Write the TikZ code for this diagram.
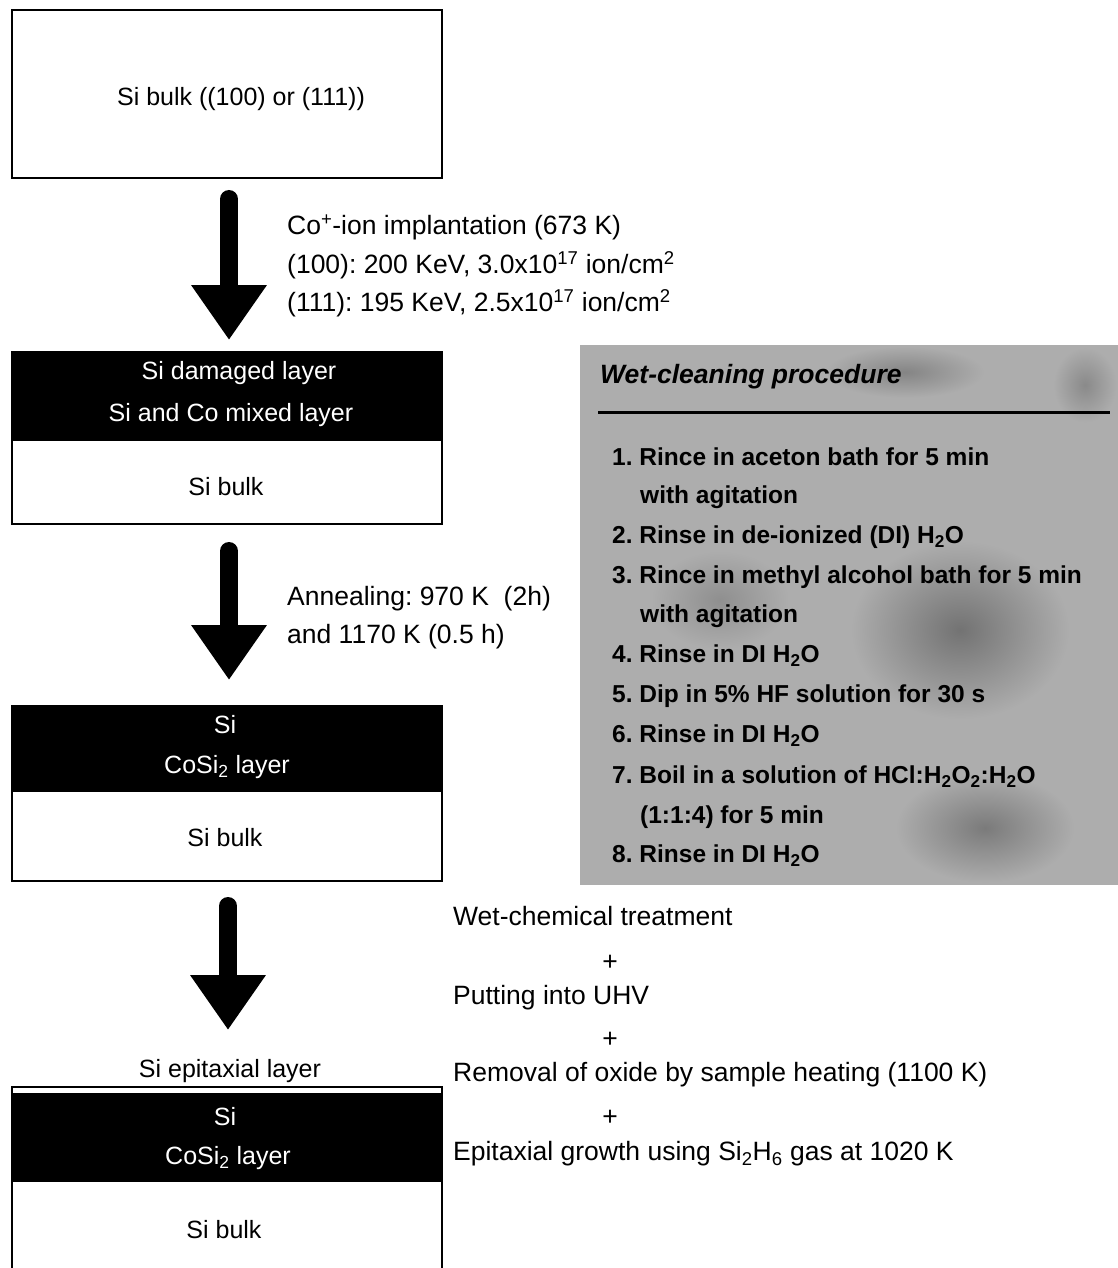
\documentclass[tikz,border=0pt]{standalone}
\usepackage{fontspec}
\setmainfont{Liberation Sans}
\usetikzlibrary{arrows.meta}
\frenchspacing
\begin{document}
\begin{tikzpicture}[x=1pt,y=-1pt,
  txt/.style={font=\fontsize{25}{30}\selectfont, inner sep=0pt, yshift=-2.5pt},
  wtxt/.style={txt, text=white},
  otxt/.style={font=\fontsize{26.5}{30}\selectfont, inner sep=0pt, yshift=-3pt},
  ltxt/.style={otxt, anchor=mid west},
  gtxt/.style={font=\fontsize{24.5}{28}\bfseries\selectfont, anchor=mid west, inner sep=0pt, yshift=-3pt},
  frame/.style={draw=black, line width=2pt},
  bigarrow/.style={line width=18pt, line cap=round, -{Triangle[width=72pt,length=55pt]}},
]
\useasboundingbox (0,0) rectangle (1118,1268);
\fill[white] (0,0) rectangle (1118,1268);

% ---- Box 1
\draw[frame] (12,10) rectangle (442,178);
\node[txt] (b1t) at (241,97) {Si bulk ((100) or (111))};

% ---- Arrow 1
\coordinate (a1s) at (229,199);
\coordinate (a1e) at (229,340);
\draw[bigarrow] (a1s) -- (a1e);
\node[ltxt] (t1a) at (287,229) {Co\textsuperscript{+}-ion implantation (673 K)};
\node[ltxt] (t1b) at (287,268) {(100): 200 KeV, 3.0x10\textsuperscript{17} ion/cm\textsuperscript{2}};
\node[ltxt] (t1c) at (287,306) {(111): 195 KeV, 2.5x10\textsuperscript{17} ion/cm\textsuperscript{2}};

% ---- Box 2
\fill[black] (12,352) rectangle (442,441);
\draw[frame] (12,352) rectangle (442,524);
\node[wtxt] (b2a) at (239,371) {Si damaged layer};
\node[wtxt] (b2b) at (231,413) {Si and Co mixed layer};
\node[txt] (b2c) at (226,484) {Si bulk};

% ---- Arrow 2
\coordinate (a2s) at (229,551);
\coordinate (a2e) at (229,680);
\draw[bigarrow] (a2s) -- (a2e);
\node[ltxt] (t2a) at (287,600) {Annealing: 970 K~ (2h)};
\node[ltxt] (t2b) at (287,638) {and 1170 K (0.5 h)};

% ---- Box 3
\fill[black] (12,706) rectangle (442,792);
\draw[frame] (12,706) rectangle (442,881);
\node[wtxt] (b3a) at (225,722) {Si};
\node[wtxt] (b3b) at (227,765) {CoSi\textsubscript{2} layer};
\node[txt] (b3c) at (225,835) {Si bulk};

% ---- Arrow 3
\coordinate (a3s) at (228,906);
\coordinate (a3e) at (228,1030);
\draw[bigarrow] (a3s) -- (a3e);

% ---- Right text
\node[ltxt] (r1) at (453,920) {Wet-chemical treatment};
\node[otxt] (p1) at (610,960) {+};
\node[ltxt] (r2) at (453,999) {Putting into UHV};
\node[otxt] (p2) at (610,1037) {+};
\node[ltxt] (r3) at (453,1076) {Removal of oxide by sample heating (1100 K)};
\node[otxt] (p3) at (610,1115) {+};
\node[ltxt] (r4) at (453,1155) {Epitaxial growth using Si\textsubscript{2}H\textsubscript{6} gas at 1020 K};

% ---- Box 4
\node[txt] (b4l) at (230,1069) {Si epitaxial layer};
\fill[black] (12,1093) rectangle (442,1182);
\draw[frame] (12,1275) -- (12,1087) -- (442,1087) -- (442,1275);
\node[wtxt] (b4a) at (225,1114) {Si};
\node[wtxt] (b4b) at (228,1156) {CoSi\textsubscript{2} layer};
\node[txt] (b4c) at (224,1227) {Si bulk};

% ---- Gray box
\begin{scope}
\clip (580,345) rectangle (1118,885);
\fill[black!32] (580,345) rectangle (1118,885);
\shade[inner color=black!55, outer color=black!32] (960,630) ellipse (110 and 90);
\shade[inner color=black!52, outer color=black!32] (985,828) ellipse (90 and 55);
\shade[inner color=black!48, outer color=black!32] (905,372) ellipse (80 and 26);
\shade[inner color=black!46, outer color=black!32] (1085,385) ellipse (32 and 38);
\shade[inner color=black!44, outer color=black!32] (720,600) ellipse (70 and 50);
\end{scope}
\node[font=\fontsize{26.5}{30}\bfseries\itshape\selectfont, anchor=mid west, inner sep=0pt, yshift=-3pt] (gt) at (600,378) {Wet-cleaning procedure};
\coordinate (gl1) at (598,412);
\coordinate (gl2) at (1110,412);
\draw[line width=3pt] (gl1) -- (gl2);
\node[gtxt] (g1) at (612,460) {1. Rince in aceton bath for 5 min};
\node[gtxt] (g1b) at (640,498) {with agitation};
\node[gtxt] (g2) at (612,538) {2. Rinse in de-ionized (DI) H\textsubscript{2}O};
\node[gtxt] (g3) at (612,578) {3. Rince in methyl alcohol bath for 5 min};
\node[gtxt] (g3b) at (640,617) {with agitation};
\node[gtxt] (g4) at (612,657) {4. Rinse in DI H\textsubscript{2}O};
\node[gtxt] (g5) at (612,697) {5. Dip in 5\% HF solution for 30 s};
\node[gtxt] (g6) at (612,737) {6. Rinse in DI H\textsubscript{2}O};
\node[gtxt] (g7) at (612,778) {7. Boil in a solution of HCl:H\textsubscript{2}O\textsubscript{2}:H\textsubscript{2}O};
\node[gtxt] (g7b) at (640,818) {(1:1:4) for 5 min};
\node[gtxt] (g8) at (612,857) {8. Rinse in DI H\textsubscript{2}O};
\end{tikzpicture}
\end{document}
